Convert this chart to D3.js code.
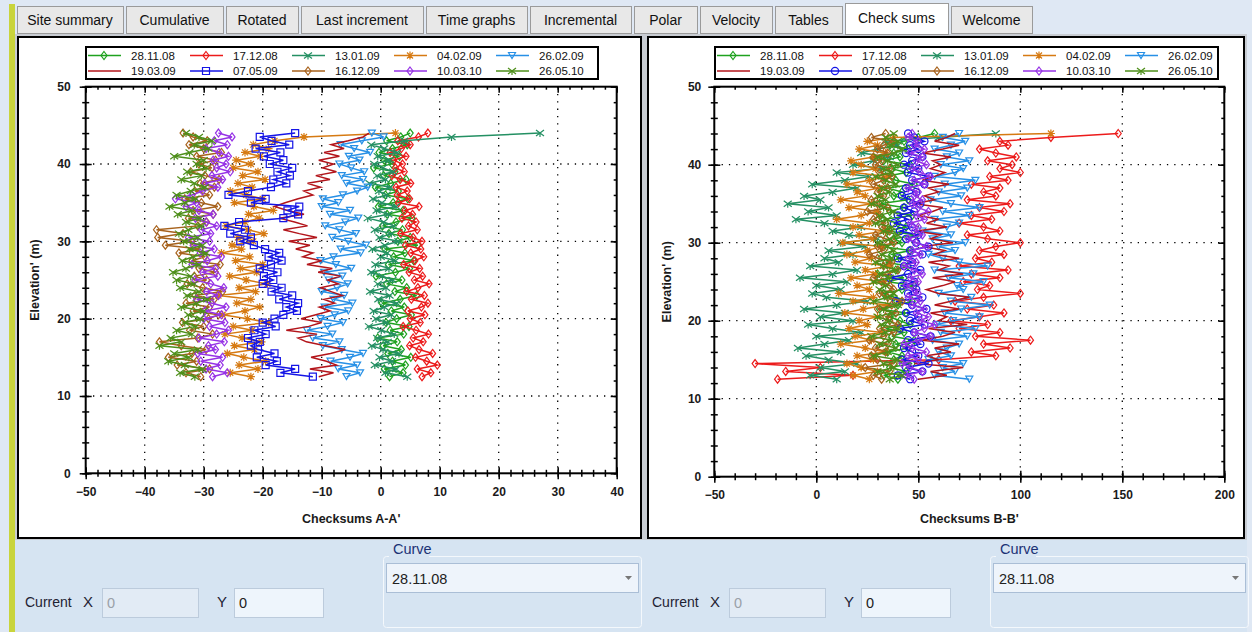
<!DOCTYPE html>
<html lang="en">
<head>
<meta charset="utf-8">
<title>Check sums</title>
<style>
  body { margin:0; background:#dfe8f4; font-family:"Liberation Sans", Arial, sans-serif; }
  svg { position:absolute; top:0; left:0; }
  .tick text { font-family:"Liberation Sans", Arial, sans-serif; }
</style>
<script src="https://cdn.jsdelivr.net/npm/d3@7"></script>
</head>
<body>
<script>
// elevations (m), bottom to top
var elevation = [12.5,13,13.5,14,14.5,15,15.5,16, 16.5,17,17.5,18,18.5,19,19.5,20,
  20.5,21,21.5,22,22.5,23,23.5,24, 24.5,25,25.5,26,26.5,27,27.5,28,
  28.5,29,29.5,30,30.5,31,31.5,32, 32.5,33,33.5,34,34.5,35,35.5,36,
  36.5,37,37.5,38,38.5,39,39.5,40, 40.5,41,41.5,42,42.5,43,43.5,44];

var dates = ["28.11.08","17.12.08","13.01.09","04.02.09","26.02.09","19.03.09","07.05.09","16.12.09","10.03.10","26.05.10"];

// ---- Checksums A-A'
var a_281108 = [1.5,3.8,0.6,4.2,2.0,5.1,1.2,3.5, 0.4,2.8,-0.5,3.9,1.6,4.8,0.9,2.7, 5.2,1.8,4.0,0.2,3.3,6.1,2.4,4.4, 1.0,3.6,-0.8,2.5,4.9,1.3,5.6,2.2,
  4.1,0.7,6.3,2.9,5.0,1.4,3.7,0.3, 2.6,5.3,1.1,3.8,-0.4,2.1,4.6,0.8, 3.0,-0.9,1.7,4.3,0.5,2.4,-1.2,1.9, 0.6,3.2,-0.3,2.0,4.5,1.0,3.4,5.0];
var a_171208 = [7.0,8.5,6.2,9.6,7.8,5.9,8.8,6.5, 4.9,7.2,5.5,8.1,6.0,3.8,6.7,5.0, 7.5,4.6,6.9,8.0,5.2,7.4,4.4,6.3, 8.2,5.7,7.1,4.8,6.6,3.9,5.8,7.3,
  5.1,6.8,4.2,7.0,5.5,3.4,6.2,4.7, 6.0,3.6,5.4,4.1,6.5,3.0,4.9,2.8, 4.5,2.6,5.1,3.3,1.9,4.0,2.5,3.7, 2.2,4.3,1.6,3.5,5.0,2.9,6.4,8.0];
var a_130109 = [4.5,0.8,2.6,-1.0,1.9,-0.2,3.1,0.4, -1.5,1.2,-0.6,2.3,0.1,-2.0,1.0,-0.8, 1.8,-1.2,0.6,2.7,-0.4,1.5,-1.8,0.9, -0.5,2.0,0.3,-1.6,1.4,-0.9,2.5,0.0,
  1.1,-1.4,0.7,3.0,-0.2,1.8,-1.0,2.2, 0.5,-2.2,1.3,-0.7,2.6,0.2,-1.3,1.0, -0.3,1.6,-1.9,0.8,-0.6,2.1,0.4,-1.1, 1.5,-0.5,2.8,0.6,-1.6,4.0,12.0,27.0];
var a_040209 = [-22.0,-25.5,-20.8,-24.0,-19.5,-23.2,-26.0,-21.4, -24.8,-20.2,-23.5,-26.4,-21.8,-25.0,-19.0,-22.6, -26.8,-23.0,-20.5,-24.4,-22.0,-27.5,-21.2,-24.0, -19.2,-22.8,-25.6,-21.0,-23.8,-20.0,-24.6,-22.2,
  -27.0,-23.6,-25.2,-21.6,-24.2,-19.8,-22.5,-26.2, -23.0,-20.6,-22.4,-18.2,-21.5,-24.8,-20.0,-22.8, -25.5,-21.8,-24.2,-19.6,-23.4,-20.8,-25.0,-22.0, -24.5,-20.4,-23.0,-19.0,-21.6,-18.0,-13.0,2.5];
var a_260209 = [-5.8,-3.5,-7.2,-4.0,-8.5,-5.2,-3.0,-6.6, -9.8,-7.0,-11.5,-8.2,-12.5,-9.0,-6.4,-10.2, -7.8,-5.5,-9.5,-4.8,-8.0,-6.2,-10.0,-7.4, -5.6,-8.8,-6.5,-9.6,-5.0,-7.6,-10.2,-8.0,
  -3.4,-6.8,-2.5,-5.5,-8.2,-4.2,-7.0,-9.4, -6.0,-3.8,-8.6,-5.2,-10.0,-7.2,-9.8,-6.4, -4.0,-2.2,-5.8,-3.0,-6.6,-2.8,-5.0,-7.0, -3.6,-5.4,-1.8,-4.5,-6.8,-3.2,0.5,-1.5];
var a_190309 = [-10.5,-8.0,-12.0,-7.5,-9.2,-11.8,-8.5,-6.0, -9.4,-12.6,-14.0,-10.8,-16.0,-12.2,-10.0,-13.5, -11.0,-8.6,-10.4,-7.8,-9.6,-6.5,-8.4,-10.2, -7.2,-9.0,-6.8,-10.6,-8.2,-12.5,-10.0,-13.2,
  -11.5,-14.4,-12.0,-15.6,-10.8,-13.8,-16.5,-12.4, -14.6,-17.2,-13.0,-15.8,-18.0,-16.2,-14.0,-11.5, -13.0,-10.2,-12.4,-8.6,-11.0,-7.5,-9.8,-8.0, -10.5,-7.0,-9.6,-6.2,-8.4,-5.5,-3.0,-2.0];
var a_070509 = [-11.5,-17.0,-14.5,-19.5,-17.6,-21.0,-18.0,-20.8, -22.0,-20.5,-22.5,-19.5,-21.4,-17.8,-20.0,-18.0, -16.5,-14.2,-16.0,-14.0,-17.2,-15.0,-18.5,-16.8, -20.0,-18.2,-19.8,-17.5,-20.5,-18.6,-16.8,-19.0,
  -17.2,-19.6,-21.5,-23.8,-22.0,-25.5,-23.0,-26.5, -24.0,-16.5,-14.0,-15.8,-13.8,-22.0,-19.5,-25.8, -22.5,-18.6,-16.0,-18.2,-15.4,-17.5,-15.0,-18.8, -16.5,-19.8,-17.0,-21.2,-15.5,-18.5,-20.5,-14.5];
var a_161209 = [-30.5,-33.0,-29.0,-34.5,-31.2,-36.0,-32.0,-29.6, -33.8,-37.5,-31.0,-28.5,-32.4,-30.0,-33.6,-29.2, -27.5,-31.8,-29.0,-33.0,-28.2,-31.5,-26.8,-30.2, -32.8,-29.5,-31.6,-28.0,-30.8,-27.2,-32.0,-29.8,
  -34.2,-30.6,-36.5,-32.0,-37.8,-33.5,-38.0,-31.0, -29.5,-32.6,-28.4,-31.8,-27.6,-30.4,-33.2,-29.0, -31.5,-28.2,-30.6,-27.4,-29.8,-32.2,-28.6,-30.8, -28.0,-31.2,-27.0,-30.0,-32.5,-29.4,-31.8,-33.5];
var a_100310 = [-28.5,-26.0,-29.6,-27.2,-30.5,-26.8,-31.0,-28.0, -29.2,-26.5,-30.8,-27.8,-25.8,-29.0,-26.4,-30.0, -27.0,-29.8,-26.2,-28.6,-31.2,-27.5,-29.5,-26.6, -28.8,-31.5,-27.6,-30.2,-28.0,-32.0,-29.4,-27.0,
  -30.6,-28.2,-31.8,-29.0,-32.6,-28.8,-30.4,-27.8, -29.6,-31.4,-28.4,-30.8,-33.0,-31.2,-34.8,-32.0, -30.2,-27.6,-29.8,-26.8,-28.6,-25.5,-27.8,-26.2, -28.4,-25.8,-27.4,-29.6,-26.0,-28.2,-25.2,-27.5];
var a_260510 = [-31.5,-34.0,-30.2,-33.2,-36.0,-32.5,-35.0,-31.0, -37.5,-33.8,-35.6,-32.0,-34.6,-31.4,-33.2,-30.6, -32.6,-30.0,-33.8,-31.2,-29.4,-32.8,-30.8,-34.0, -31.6,-34.6,-32.2,-35.2,-33.0,-30.8,-33.6,-31.8,
  -29.6,-32.4,-30.2,-33.4,-31.0,-34.2,-32.6,-30.4, -33.0,-30.6,-34.4,-32.0,-35.8,-33.2,-31.4,-34.6, -32.2,-29.8,-31.6,-33.8,-30.4,-32.8,-29.6,-31.2, -30.0,-35.0,-32.4,-29.2,-31.6,-28.6,-30.8,-33.0];

// ---- Checksums B-B'
var b_281108 = [40,33,44,36,47,38,42,35, 45,39,48,37,43,34,46,41, 36,44,31,40,47,38,33,42, 48,35,43,30,39,45,34,41,
  37,46,32,42,38,49,35,44, 40,33,47,36,43,31,45,38, 42,35,48,39,34,44,37,46, 33,41,38,45,36,43,50,58];
var b_171208 = [-19,18,-15,2,-30,60,88,76, 95,82,105,78,90,70,84,66, 80,92,74,87,68,82,100,79, 85,72,90,76,94,70,86,78,
  92,80,88,100,84,74,90,82, 70,86,76,92,80,95,74,88, 82,90,76,94,85,100,90,96, 84,98,88,80,94,90,115,148];
var b_130109 = [10,-3,14,2,20,6,-5,12, -9,4,16,0,22,8,-4,18, 2,14,-6,10,25,5,-2,12, 0,15,-8,8,20,-3,11,4,
  18,6,24,12,30,16,8,22, 4,-10,10,-4,6,-14,2,-6, 8,20,-2,14,26,10,32,18, 28,36,22,30,40,34,60,88];
var b_040209 = [26,18,30,22,15,28,20,34, 24,12,27,19,32,16,25,21, 30,14,23,35,18,28,11,26, 20,33,17,29,24,36,19,27,
  15,25,32,13,28,21,34,18, 26,10,22,30,16,27,12,24, 20,31,15,26,35,18,29,22, 17,28,34,21,30,25,38,115];
var b_260209 = [75,58,68,62,72,55,66,60, 64,70,57,74,61,78,59,67, 80,63,71,85,66,76,60,72, 69,82,65,77,58,84,70,62,
  55,68,60,73,57,66,52,64, 70,58,75,62,80,66,56,71, 60,74,63,78,58,68,72,61, 75,64,70,58,66,73,62,70];
var b_190309 = [50,64,56,72,48,60,54,66, 58,70,52,62,68,55,74,60, 64,56,70,58,66,75,60,54, 62,68,57,72,60,65,55,70,
  58,63,52,67,56,61,49,64, 54,60,50,57,62,48,58,53, 60,55,65,52,58,63,56,61, 57,66,52,62,70,58,64,68];
var b_070509 = [46,40,52,44,55,42,50,47, 43,51,45,56,48,41,53,46, 50,44,54,47,39,52,45,49, 42,48,36,45,51,43,47,40,
  52,46,55,49,44,50,41,47, 38,45,40,48,43,51,46,42, 49,44,53,47,55,45,50,43, 47,52,44,50,46,53,48,45];
var b_161209 = [32,28,36,24,38,30,27,34, 29,35,26,33,38,31,40,36, 34,39,30,37,42,35,31,38, 36,32,28,35,40,33,37,30,
  26,33,30,38,34,29,36,32, 34,28,31,25,35,30,27,33, 30,35,28,33,37,31,36,29, 32,28,35,30,33,38,27,34];
var b_100310 = [48,44,52,46,42,50,45,54, 47,43,50,56,48,53,58,51, 55,49,53,47,51,45,50,48, 44,50,46,52,48,43,49,45,
  51,47,54,49,45,52,48,50, 46,53,49,55,50,47,52,48, 50,45,53,48,56,51,47,54, 49,52,46,53,48,50,45,47];
var b_260510 = [36,42,30,38,33,40,28,35, 39,31,37,27,34,40,32,36, 30,37,33,40,28,35,38,31, 34,28,36,31,39,33,29,37,
  32,38,35,30,36,40,33,37, 29,35,31,38,33,27,34,30, 36,32,39,34,29,37,33,40, 35,30,38,42,36,40,34,38];

var xTicksA = [-50,-40,-30,-20,-10,0,10,20,30,40];
var xTicksB = [-50,0,50,100,150,200];
var yTicks = [0,10,20,30,40,50];
var tabs = ["Site summary","Cumulative","Rotated","Last increment","Time graphs","Incremental","Polar","Velocity","Tables","Check sums","Welcome"];

// styles
var colors = ["#1fa21f","#ec1b1b","#249063","#d67a12","#2790e6","#b3151b","#1515e6","#a7621c","#9632e6","#4e8f1a"];
var markersA = ["diamond","diamond","cross","star","tri","none","square","diamond","diamond","cross"];
var markersB = ["diamond","diamond","cross","star","tri","none","circle","diamond","diamond","cross"];

var W = 1252, H = 632;
var svg = d3.select("body").append("svg").attr("width", W).attr("height", H);

// ---------- window chrome ----------
svg.append("rect").attr("x",0).attr("y",0).attr("width",W).attr("height",H).attr("fill","#dfe8f4");
svg.append("rect").attr("x",9).attr("y",4).attr("width",6).attr("height",H-4).attr("fill","#c9d43c");
svg.append("rect").attr("x",15).attr("y",34).attr("width",1232).attr("height",506).attr("fill","#c8ccd2");

var tabEdges = [17,126,226,301,426,530,634,700,775,845,951,1035];
tabs.forEach(function(t, i){
  var sel = t == "Check sums";
  var g = svg.append("g");
  g.append("rect")
    .attr("x", tabEdges[i]+0.5).attr("y", sel ? 3.5 : 6.5)
    .attr("width", tabEdges[i+1]-tabEdges[i]-3).attr("height", sel ? 31 : 27)
    .attr("fill", sel ? "#ffffff" : "#e8e8e8")
    .attr("stroke", "#9a9a9a");
  g.append("text")
    .attr("x", (tabEdges[i]+tabEdges[i+1]-3)/2).attr("y", sel ? 23 : 25)
    .attr("text-anchor","middle")
    .style("font-size","14px").style("fill","#111")
    .text(t);
});

// ---------- marker shapes ----------
function markerPath(type){
  if(type=="diamond") return "M0,-4L3,0L0,4L-3,0Z";
  if(type=="square") return "M-3.5,-3.5H3.5V3.5H-3.5Z";
  if(type=="tri") return "M-3.5,-3L3.5,-3L0,3Z";
  if(type=="cross") return "M-4,-3L4,3M-4,3L4,-3M0,0V4";
  if(type=="star") return "M-4,0H4M0,-4V4M-3,-3L3,3M-3,3L3,-3";
  if(type=="circle") return d3.symbol(d3.symbolCircle, 40)();
  return null;
}

function drawChart(p){
  var frame = svg.append("g");
  frame.append("rect").attr("x",p.fx).attr("y",p.fy).attr("width",p.fw).attr("height",p.fh)
    .attr("fill","#fff").attr("stroke","#000").attr("stroke-width",2);

  var x = d3.scaleLinear().domain(p.xDomain).range([p.left, p.right]);
  var y = d3.scaleLinear().domain([0,50]).range([p.bottom, p.top]);
  var xMinor = d3.range(p.xDomain[0], p.xDomain[1]+0.001, p.xMinorStep);
  var yMinor = d3.range(0, 50.001, 2);
  var ph = p.bottom - p.top, pw = p.right - p.left;

  var g = svg.append("g");

  // dotted grid
  g.append("g").selectAll("line").data(p.xTicks.slice(1,-1)).join("line")
    .attr("x1", d=>x(d)).attr("x2", d=>x(d)).attr("y1", p.top).attr("y2", p.bottom)
    .attr("stroke","#000").attr("stroke-width",1.3).attr("stroke-dasharray","1.3,6");
  g.append("g").selectAll("line").data(yTicks.slice(1,-1)).join("line")
    .attr("y1", d=>y(d)).attr("y2", d=>y(d)).attr("x1", p.left).attr("x2", p.right)
    .attr("stroke","#000").attr("stroke-width",1.3).attr("stroke-dasharray","1.3,6");

  // axes
  function ax(gen, tr, vals, size, labels, pad){
    var a = g.append("g").attr("transform", tr)
      .call(gen.tickValues(vals).tickSize(size).tickPadding(pad || 3).tickFormat(labels ? d3.format("d") : ""));
    a.select(".domain").remove();
    a.selectAll("line").attr("stroke","#000").attr("stroke-width",1.5);
    a.selectAll("text").style("font-size","12px").style("font-weight","bold").style("fill","#1a1a1a");
    return a;
  }
  var bt = "translate(0,"+p.bottom+")", tp = "translate(0,"+p.top+")";
  var lf = "translate("+p.left+",0)", rt = "translate("+p.right+",0)";
  ax(d3.axisBottom(x), bt, p.xTicks, 6, true, 8);
  ax(d3.axisBottom(x), bt, p.xTicks, -6, false);
  ax(d3.axisBottom(x), bt, xMinor, 3.5, false);
  ax(d3.axisBottom(x), bt, xMinor, -3.5, false);
  ax(d3.axisTop(x), tp, p.xTicks, -6, false);
  ax(d3.axisTop(x), tp, xMinor, -3, false);
  ax(d3.axisLeft(y), lf, yTicks, 6, true, p.yPad);
  ax(d3.axisLeft(y), lf, yTicks, -6, false);
  ax(d3.axisLeft(y), lf, yMinor, 3.5, false);
  ax(d3.axisLeft(y), lf, yMinor, -3.5, false);
  ax(d3.axisRight(y), rt, yTicks, -6, false);
  ax(d3.axisRight(y), rt, yMinor, -3, false);

  g.append("rect").attr("x",p.left).attr("y",p.top).attr("width",pw).attr("height",ph)
    .attr("fill","none").attr("stroke","#000").attr("stroke-width",2);

  // series
  var line = d3.line().x(d=>x(d[0])).y(d=>y(d[1]));
  p.series.forEach(function(s, i){
    var pts = s.map((v, k) => [v, elevation[k]]);
    var sg = g.append("g");
    sg.append("path").attr("d", line(pts)).attr("fill","none")
      .attr("stroke", colors[i]).attr("stroke-width",1.5);
    var mp = markerPath(p.markers[i]);
    if(mp){
      sg.selectAll("path.m").data(pts).join("path").attr("class","m")
        .attr("transform", d => "translate("+x(d[0])+","+y(d[1])+")")
        .attr("d", mp).attr("fill","none").attr("stroke", colors[i]).attr("stroke-width",1.2);
    }
  });

  // titles
  g.append("text").attr("x", (p.left+p.right)/2).attr("y", 523).attr("text-anchor","middle")
    .style("font-size","12.5px").style("font-weight","bold").style("fill","#1a1a1a").text(p.xTitle);
  g.append("text").attr("transform","translate("+p.yTitleX+","+((p.top+p.bottom)/2-0)+") rotate(-90)")
    .attr("text-anchor","middle").attr("dy","0.35em")
    .style("font-size","12.5px").style("font-weight","bold").style("fill","#1a1a1a").text("Elevation' (m)");

  // legend
  var lg = g.append("g");
  lg.append("rect").attr("x", p.lx).attr("y", 47).attr("width", p.lw).attr("height", 32)
    .attr("fill","#fff").attr("stroke","#000").attr("stroke-width",2);
  dates.forEach(function(d, i){
    var cx = p.lx + 2 + (i%5)*102, cy = i < 5 ? 55.5 : 71;
    lg.append("line").attr("x1", cx).attr("x2", cx+33).attr("y1", cy).attr("y2", cy)
      .attr("stroke", colors[i]).attr("stroke-width",1.5);
    var mp = markerPath(p.markers[i]);
    if(mp) lg.append("path").attr("d", mp).attr("transform","translate("+(cx+16)+","+cy+")")
      .attr("fill","none").attr("stroke",colors[i]).attr("stroke-width",1.2);
    lg.append("text").attr("x", cx+43).attr("y", cy+4).style("font-size","11.5px").style("fill","#111").text(d);
  });
}

drawChart({fx:18, fy:37, fw:623, fh:501, left:85.7, right:616.7, top:86.7, bottom:473.3,
  xDomain:[-50,40], xTicks:xTicksA, xMinorStep:2, yPad:9, yTitleX:35, lx:86, lw:512,
  xTitle:"Checksums A-A'", markers:markersA,
  series:[a_281108,a_171208,a_130109,a_040209,a_260209,a_190309,a_070509,a_161209,a_100310,a_260510]});
drawChart({fx:648, fy:37, fw:596, fh:501, left:714.3, right:1224.3, top:86.7, bottom:476.7,
  xDomain:[-50,200], xTicks:xTicksB, xMinorStep:10, yPad:7, yTitleX:667, lx:715, lw:503,
  xTitle:"Checksums B-B'", markers:markersB,
  series:[b_281108,b_171208,b_130109,b_040209,b_260209,b_190309,b_070509,b_161209,b_100310,b_260510]});

// ---------- bottom controls ----------
function controls(ox, cx, cw){
  svg.append("rect").attr("x", ox).attr("y", 540).attr("width", ox < 600 ? 627 : 605).attr("height", 92).attr("fill","#d6e4f2");
  svg.append("text").attr("x", ox+10).attr("y", 607).style("font-size","14px").style("fill","#1e2233").text("Current");
  svg.append("text").attr("x", ox+68).attr("y", 607).style("font-size","15px").style("fill","#1e2233").text("X");
  svg.append("rect").attr("x", ox+87.5).attr("y", 588.5).attr("width", 96).attr("height", 29)
    .attr("fill","#e2ebf5").attr("stroke","#bccbdc");
  svg.append("text").attr("x", ox+92).attr("y", 608).style("font-size","14.5px").style("fill","#9aa0a8").text("0");
  svg.append("text").attr("x", ox+202).attr("y", 607).style("font-size","15px").style("fill","#1e2233").text("Y");
  svg.append("rect").attr("x", ox+219.5).attr("y", 588.5).attr("width", 89).attr("height", 29)
    .attr("fill","#eef5fc").attr("stroke","#bccbdc");
  svg.append("text").attr("x", ox+224).attr("y", 608).style("font-size","14.5px").style("fill","#222").text("0");
  // Curve group box
  svg.append("rect").attr("x", cx+0.5).attr("y", 556.5).attr("width", cw).attr("height", 71).attr("rx",3)
    .attr("fill","none").attr("stroke","#f4f8fc");
  svg.append("rect").attr("x", cx+6).attr("y", 548).attr("width", 40).attr("height", 14).attr("fill","#d6e4f2");
  svg.append("text").attr("x", cx+10).attr("y", 554).style("font-size","14.5px").style("fill","#1c3275").text("Curve");
  svg.append("rect").attr("x", cx+3.5).attr("y", 563.5).attr("width", cw-6).attr("height", 29)
    .attr("fill","#eef4fb").attr("stroke","#aabed6");
  svg.append("text").attr("x", cx+9).attr("y", 584).style("font-size","14.5px").style("fill","#222").text(dates[0]);
  svg.append("path").attr("d","M"+(cx+cw-16)+",576h7l-3.5,4z").attr("fill","#777");
}
controls(15, 383, 258);
controls(642, 990, 258);
</script>
</body>
</html>
